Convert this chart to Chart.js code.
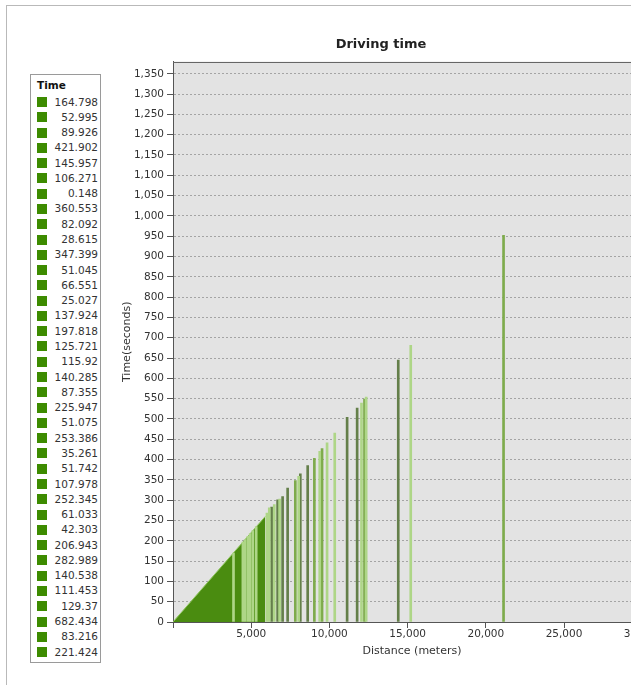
<!DOCTYPE html>
<html>
<head>
<meta charset="utf-8">
<title>Driving time</title>
<script src="https://cdn.jsdelivr.net/npm/chart.js@4.4.1/dist/chart.umd.min.js"></script>
<style>
  html, body { margin: 0; padding: 0; width: 631px; height: 685px; overflow: hidden; background: #fff; }
  #chart { position: absolute; left: 0; top: 0; }
  #frame { position: absolute; left: 6px; top: 5px; width: 700px; height: 700px;
    border-top: 1px solid #b9b9b9; border-left: 1px solid #b9b9b9; z-index: 2; pointer-events: none; }
  #legend { position: absolute; left: 30px; top: 74px; width: 69px; height: 587px; z-index: 3;
    border: 1px solid #9a9a9a; background: #fff; font-family: "DejaVu Sans"; font-size: 10.5px; color: #333; }
  #legend .head { position: absolute; left: 6px; top: 4px; font-weight: bold; color: #111; }
  #legend .row { position: absolute; left: 6px; right: 2px; height: 15px; line-height: 15px; }
  #legend .sw { position: absolute; left: 0; top: 2.5px; width: 10px; height: 10px; background: #3d8b00; }
  #legend .val { position: absolute; right: 0; top: 0; }
</style>
</head>
<body>
<div id="frame"></div>
<canvas id="chart" width="680" height="685"></canvas>
<div id="legend"><div class="head">Time</div></div>
<script>
// legend entries, top to bottom
const legendLabels = [
  "164.798", "52.995", "89.926", "421.902", "145.957", "106.271", "0.148", "360.553",
  "82.092", "28.615", "347.399", "51.045", "66.551", "25.027", "137.924", "197.818",
  "125.721", "115.92", "140.285", "87.355", "225.947", "51.075", "253.386", "35.261",
  "51.742", "107.978", "252.345", "61.033", "42.303", "206.943", "282.989", "140.538",
  "111.453", "129.37", "682.434", "83.216", "221.424"
];

// dense block of bars near the origin (outline of the solid area)
const fillDistance = [0, 5900];
const fillTime = [0, 260];

// single bars, grouped by shade
const lightDistance = [3868, 4466, 4615, 4786, 4936, 5107, 5320, 6004, 6154, 6474, 6816,
  8034, 9380, 9850, 10341, 12051, 12350, 15200];
const lightTime = [170, 197, 203, 211, 218, 225, 235, 268, 281, 289, 303,
  359, 420, 441, 465, 539, 554, 681];

const midDistance = [7820, 9038, 9530, 12243, 21133];
const midTime = [348, 403, 427, 549, 952];

const darkDistance = [6303, 6688, 7008, 7329, 8141, 8611, 11132, 11773, 14402];
const darkTime = [283, 301, 309, 330, 365, 385, 504, 527, 645];

const xTicks = [0, 5000, 10000, 15000, 20000, 25000, 30000];
const xMax = 30560;
const yMax = 1380;
const yStep = 50;

// legend rows
const legendEl = document.getElementById("legend");
legendLabels.forEach((label, i) => {
  const row = document.createElement("div");
  row.className = "row";
  row.style.top = (19.5 + i * 15.28) + "px";
  row.innerHTML = '<span class="sw"></span><span class="val">' + label + "</span>";
  legendEl.appendChild(row);
});

const toPoints = (xs, ys) => xs.map((x, i) => ({ x: x, y: ys[i] }));

// grey plot background and top border
const plotFrame = {
  id: "plotFrame",
  beforeDraw(chart) {
    const { ctx, chartArea: a } = chart;
    ctx.save();
    ctx.fillStyle = "#e3e3e3";
    ctx.fillRect(a.left, a.top, a.right - a.left, a.bottom - a.top);
    ctx.restore();
  },
  afterDraw(chart) {
    const { ctx, chartArea: a } = chart;
    ctx.save();
    ctx.strokeStyle = "#666";
    ctx.lineWidth = 1;
    ctx.beginPath();
    ctx.moveTo(a.left, Math.round(a.top) + 0.5);
    ctx.lineTo(a.right, Math.round(a.top) + 0.5);
    ctx.stroke();
    ctx.restore();
  }
};

const tickFont = { family: "DejaVu Sans", size: 10.5 };
const titleFont = { family: "DejaVu Sans", size: 11 };

new Chart(document.getElementById("chart"), {
  type: "bar",
  data: {
    datasets: [
      {
        type: "line",
        data: toPoints(fillDistance, fillTime),
        fill: "origin",
        backgroundColor: "#4a8c10",
        borderColor: "#8cc45a",
        borderWidth: 1,
        pointRadius: 0,
        order: 2
      },
      { data: toPoints(lightDistance, lightTime), backgroundColor: "#aed687", order: 1 },
      { data: toPoints(midDistance, midTime), backgroundColor: "#7eab4c", order: 1 },
      { data: toPoints(darkDistance, darkTime), backgroundColor: "#647f4a", order: 1 }
    ]
  },
  options: {
    responsive: false,
    animation: false,
    locale: "en-US",
    layout: { padding: { left: 111, right: 29, top: 0, bottom: 27 } },
    datasets: { bar: { grouped: false, barThickness: 2 } },
    plugins: {
      legend: { display: false },
      tooltip: { enabled: false },
      title: {
        display: true,
        text: "Driving time",
        color: "#222",
        font: { family: "DejaVu Sans", size: 13, weight: "bold" },
        padding: { top: 37, bottom: 9 }
      }
    },
    scales: {
      x: {
        type: "linear",
        min: 0,
        max: xMax,
        offset: false,
        afterBuildTicks: s => { s.ticks = xTicks.map(v => ({ value: v })); },
        afterFit: s => { s.height = 36; },
        grid: { drawOnChartArea: false, offset: false, tickLength: 6, tickColor: "#555" },
        border: { color: "#555" },
        ticks: {
          autoSkip: false,
          maxRotation: 0,
          padding: 0,
          color: "#333",
          font: tickFont,
          callback: v => (v === 0 ? "" : v.toLocaleString("en-US"))
        },
        title: { display: true, text: "Distance (meters)", color: "#333", font: titleFont, padding: 0 }
      },
      y: {
        min: 0,
        max: yMax,
        afterFit: s => { s.width = 62; },
        grid: { color: "#a4a4a4", tickLength: 6, tickColor: "#555" },
        border: { color: "#555", dash: [2, 2] },
        ticks: {
          stepSize: yStep,
          includeBounds: false,
          autoSkip: false,
          padding: 3,
          color: "#333",
          font: tickFont
        },
        title: { display: true, text: "Time(seconds)", color: "#333", font: titleFont, padding: { top: 10, bottom: 0 } }
      }
    }
  },
  plugins: [plotFrame]
});
</script>
</body>
</html>
